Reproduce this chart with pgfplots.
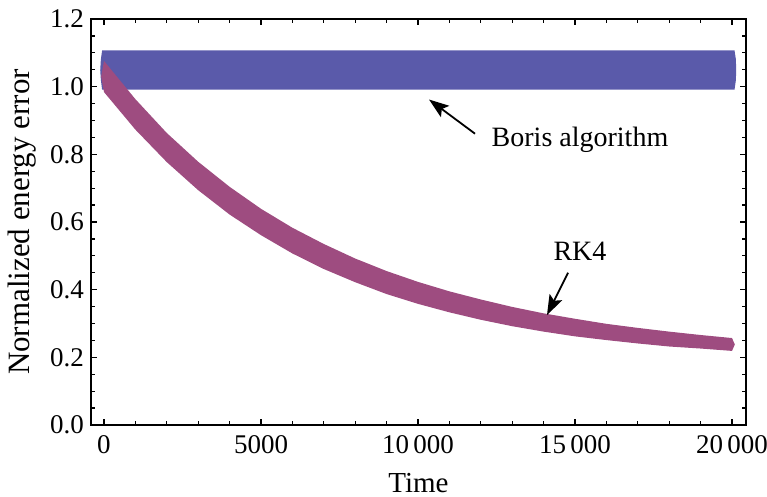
\documentclass[border=0pt]{standalone}
\usepackage{fontspec}
\setmainfont{Liberation Serif}
\usepackage{pgfplots}
\pgfplotsset{compat=1.18}
\usetikzlibrary{arrows.meta}

\definecolor{borisblue}{RGB}{90,90,170}
\definecolor{rkpink}{RGB}{158,76,128}

% Boris algorithm: band between 1.0 and 1.1 (outer edge incl. marker size)
\pgfplotstableread{
t      v
-120   1.049
-100   1.020
-60    0.991
20080  0.991
20125  1.020
20130  1.049
20125  1.080
20080  1.107
-60    1.107
-100   1.080
}\boris

% RK4: upper edge 0..20000, then lower edge back
\pgfplotstableread{
t      v
-90    1.030
0      1.076
1000   0.963
2000   0.863
3000   0.778
4000   0.704
5000   0.639
6000   0.583
7000   0.535
8000   0.492
9000   0.455
10000  0.423
11000  0.395
12000  0.371
13000  0.349
14000  0.330
15000  0.314
16000  0.299
17000  0.287
18000  0.276
19000  0.266
20000  0.257
20090  0.238
20000  0.219
19000  0.226
18000  0.232
17000  0.241
16000  0.251
15000  0.262
14000  0.276
13000  0.292
12000  0.311
11000  0.333
10000  0.358
9000   0.387
8000   0.422
7000   0.461
6000   0.507
5000   0.561
4000   0.622
3000   0.694
2000   0.777
1000   0.873
0      0.984
}\rkfour

\begin{document}
\begin{tikzpicture}
\begin{axis}[
    scale only axis,
    width=327.5pt,
    height=203pt,
    xmin=-414, xmax=20446,
    ymin=0, ymax=1.2,
    xtick={0,5000,10000,15000,20000},
    xticklabels={0,5000,10\,000,15\,000,20\,000},
    scaled x ticks=false,
    ytick={0,0.2,0.4,0.6,0.8,1.0,1.2},
    minor x tick num=4,
    minor y tick num=3,
    tick align=inside,
    major tick length=3pt,
    minor tick length=2pt,
    axis line style={line width=0.7pt},
    every tick/.style={black, line width=0.6pt},
    /pgf/number format/assume math mode=true,
    yticklabel style={/pgf/number format/fixed, /pgf/number format/fixed zerofill, /pgf/number format/precision=1},
    tick label style={font=\fontsize{13.5}{15}\selectfont},
    xticklabel style={yshift=-1.5pt},
    label style={font=\fontsize{14.5}{16}\selectfont},
    xlabel={Time},
    ylabel={Normalized energy error},
    xlabel style={at={(axis description cs:0.5,-0.143)}, anchor=center},
    ylabel style={at={(axis description cs:-0.105,0.5)}, anchor=center, font=\fontsize{15.5}{17}\selectfont},
]
\addplot[draw=none, fill=borisblue] table[x=t, y=v] {\boris};
\addplot[draw=none, fill=rkpink] table[x=t, y=v] {\rkfour};

\node[font=\fontsize{14}{16}\selectfont, anchor=center] at (axis cs:15159,0.843) {Boris algorithm};
\draw[-{Stealth[length=10pt,width=7pt,inset=2pt]}, line width=0.9pt] (axis cs:11815,0.861) -- (axis cs:10350,0.962);

\node[font=\fontsize{14}{16}\selectfont, anchor=center] at (axis cs:15159,0.512) {RK4};
\draw[-{Stealth[length=10pt,width=7pt,inset=2pt]}, line width=0.9pt] (axis cs:14777,0.450) -- (axis cs:14108,0.325);

\coordinate (sw) at (rel axis cs:0,0);
\coordinate (ne) at (rel axis cs:1,1);
\end{axis}
\pgfresetboundingbox
\path[use as bounding box] ([xshift=-45.5pt,yshift=-35.5pt]sw) rectangle ([xshift=10.5pt,yshift=9.5pt]ne);
\end{tikzpicture}
\end{document}
